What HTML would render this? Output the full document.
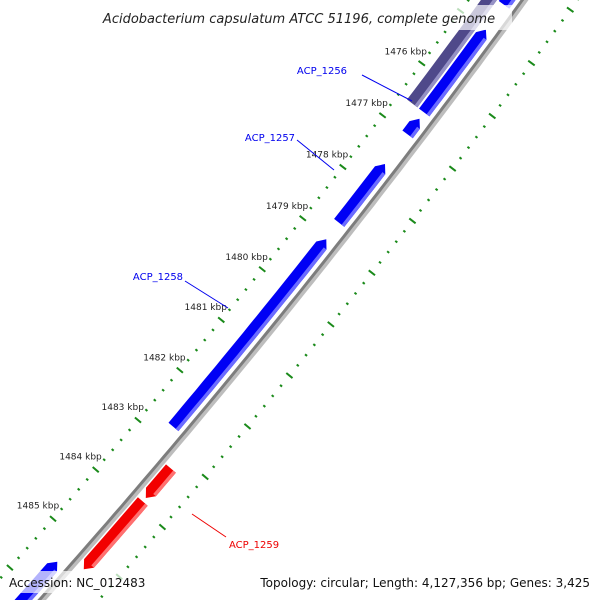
<!DOCTYPE html>
<html><head><meta charset="utf-8"><style>
html,body{margin:0;padding:0;background:#fff;width:600px;height:600px;overflow:hidden;}
svg{display:block;font-family:"DejaVu Sans","Liberation Sans",sans-serif;overflow:hidden;}
</style></head><body>
<svg id="map" width="600" height="600" viewBox="0 0 600 600">
<g id="ticks"></g>
<g id="backbone"></g>
<g id="genes"></g>
<g id="labels"></g>
<rect x="88" y="5" width="424" height="25" fill="#fff" opacity="0.7"/>
<text x="299" y="23" text-anchor="middle" font-style="italic" font-size="13" fill="#222">Acidobacterium capsulatum ATCC 51196, complete genome</text>
<rect x="4" y="571" width="148" height="22" fill="#fff" opacity="0.7"/>
<text x="9" y="587" font-size="12" fill="#111">Accession: NC_012483</text>
<rect x="256" y="571" width="340" height="22" fill="#fff" opacity="0.7"/>
<text x="590" y="587" text-anchor="end" font-size="12" fill="#111">Topology: circular; Length: 4,127,356 bp; Genes: 3,425</text>
</svg>
<script>
const geneStarts = [1472.0, 1472.0, 1475.0, 1476.70, 1477.57, 1479.03, 1483.24, 1483.90, 1485.45];
const geneEnds   = [1474.53, 1476.58, 1476.58, 1477.00, 1478.71, 1482.73, 1483.83, 1485.27, 1487.5];
const geneStrands = [-1, 0, -1, -1, -1, -1, 1, 1, -1];
const geneNames = ['gene-a','gene-b','ACP_1256','gene-c','ACP_1257','ACP_1258','ACP_1259a','ACP_1259b','gene-d'];
const tickKbp = [1472,1473,1474,1475,1476,1477,1478,1479,1480,1481,1482,1483,1484,1485,1486,1487];
const tickLabels = ['1476 kbp','1477 kbp','1478 kbp','1479 kbp','1480 kbp','1481 kbp','1482 kbp','1483 kbp','1484 kbp','1485 kbp'];
const tickLabelKbp = [1476,1477,1478,1479,1480,1481,1482,1483,1484,1485];

const NS='http://www.w3.org/2000/svg';
const CX=-5645, CY=-4471, R=7618;
function ang(kbp){ return (37.76 + (kbp-1478)*0.4927)*Math.PI/180; }
function pt(kbp,d){ const a=ang(kbp); return [CX+(R+d)*Math.cos(a), CY+(R+d)*Math.sin(a)]; }
function arcPts(k1,k2,d){ const out=[]; const n=Math.max(2,Math.ceil(Math.abs(k2-k1)*6)); for(let i=0;i<=n;i++){ out.push(pt(k1+(k2-k1)*i/n,d)); } return out; }
function mk(tag,parent,attrs){ const e=document.createElementNS(NS,tag); for(const k in attrs) e.setAttribute(k,attrs[k]); parent.appendChild(e); return e; }
function ps(a){ return a.map(p=>p[0].toFixed(1)+','+p[1].toFixed(1)).join(' '); }

const tg=document.getElementById('ticks');
for(let k=tickKbp[0]*5;k<=tickKbp[tickKbp.length-1]*5;k++){
  const kb=k/5; const major=(k%5===0);
  [-44,44].forEach(d=>{
    const h=major?4:1.3;
    const a=pt(kb,d-h), b=pt(kb,d+h);
    const l=mk('line',tg,{x1:a[0],y1:a[1],x2:b[0],y2:b[1],stroke:'#1a8a1a','stroke-width':2});
    
    
  });
}
tickLabels.forEach((t,i)=>{
  const p=pt(tickLabelKbp[i],-64);
  const e=mk('text',tg,{x:p[0],y:p[1]+3,'text-anchor':'middle','font-size':9,fill:'#222'});
  e.textContent=t;
  
  
});

const bg=document.getElementById('backbone');
const b1=mk('polyline',bg,{points:ps(arcPts(1471,1488,1.5)),fill:'none',stroke:'#bdbdbd','stroke-width':6});


const b2=mk('polyline',bg,{points:ps(arcPts(1471,1488,-0.5)),fill:'none',stroke:'#7d7d7d','stroke-width':3});



const gg=document.getElementById('genes');
geneStarts.forEach((s,i)=>{
  const e=geneEnds[i], st=geneStrands[i];
  let r1,r2,fill,light,op=1;
  if(st===-1){ r1=-19; r2=-6; fill='#0000f5'; light='#6b6bff'; }
  else if(st===1){ r1=6; r2=19; fill='#f20000'; light='#ff7070'; }
  else { r1=-34; r2=-21; fill='#3c367e'; light='#8a86bf'; op=0.9; }
  const al=0.12, rm=(r1+r2)/2;
  let poly;
  if(st===-1){
    poly=[pt(s,rm)].concat(arcPts(s+al,e,r2)).concat(arcPts(e,s+al,r1));
  } else if(st===1){
    poly=arcPts(s,e-al,r2).concat([pt(e,rm)]).concat(arcPts(e-al,s,r1));
  } else {
    poly=arcPts(s,e,r2).concat(arcPts(e,s,r1));
  }
  const g=mk('g',gg,{opacity:op});
  
  
  mk('polygon',g,{points:ps(poly),fill:fill});
  const ls = st===-1? s+al : s, le = st===1? e-al : e;
  const strip=arcPts(ls,le,r2).concat(arcPts(le,ls,r2-3.5));
  mk('polygon',g,{points:ps(strip),fill:light});
});

const lg=document.getElementById('labels');
const labelNames=['ACP_1256','ACP_1257','ACP_1258','ACP_1259'];
const labelColors=['#0000ee','#0000ee','#0000ee','#ee0000'];
const labelLine=[[362,75,412,101],[297,140,334,170],[185,281,228,308],[192,514,226,537]];
const labelText=[[322,74,'middle'],[270,141,'middle'],[158,280,'middle'],[229,548,'start']];
labelNames.forEach((n,i)=>{
  const L=labelLine[i];
  const l=mk('line',lg,{x1:L[0],y1:L[1],x2:L[2],y2:L[3],stroke:labelColors[i],'stroke-width':1});
  
  
  const t=mk('text',lg,{x:labelText[i][0],y:labelText[i][1],'text-anchor':labelText[i][2],'font-size':10,fill:labelColors[i]});
  t.textContent=n;
  
  
});
</script>
</body></html>
